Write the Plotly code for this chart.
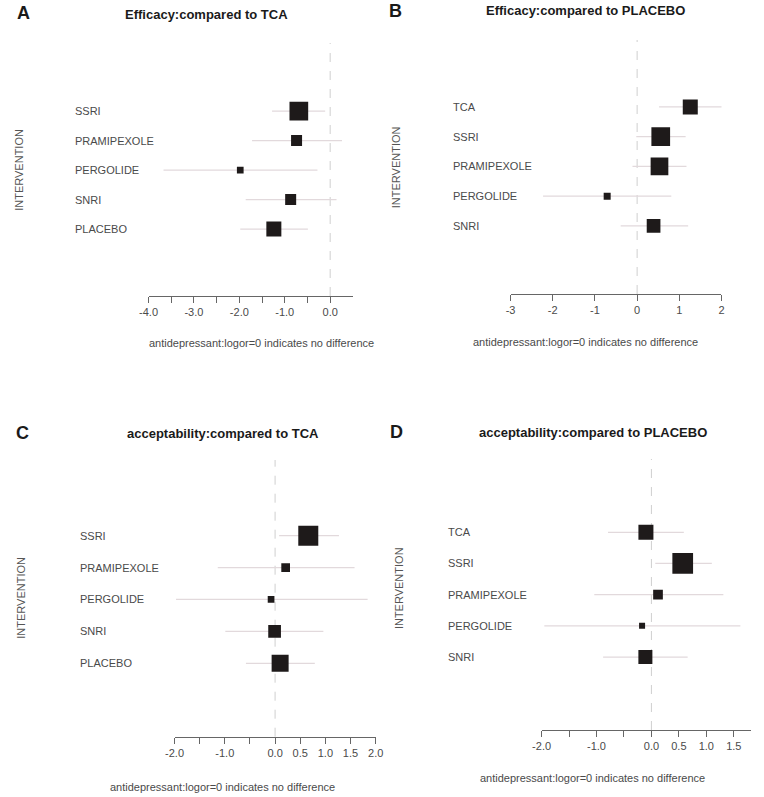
import plotly.graph_objects as go

# ---------------- data ----------------
# Panel A: Efficacy compared to TCA
a_names = ["SSRI", "PRAMIPEXOLE", "PERGOLIDE", "SNRI", "PLACEBO"]
a_est = [-0.69, -0.74, -1.98, -0.87, -1.24]
a_lo = [-1.28, -1.72, -3.67, -1.86, -1.98]
a_hi = [-0.11, 0.26, -0.28, 0.14, -0.49]
a_w = [18.7, 11.0, 6.7, 11.0, 15.0]

# Panel B: Efficacy compared to PLACEBO
b_names = ["TCA", "SSRI", "PRAMIPEXOLE", "PERGOLIDE", "SNRI"]
b_est = [1.26, 0.56, 0.53, -0.71, 0.39]
b_lo = [0.52, -0.02, -0.11, -2.23, -0.39]
b_hi = [2.02, 1.15, 1.17, 0.81, 1.21]
b_w = [15.0, 18.7, 17.7, 7.0, 13.7]

# Panel C: acceptability compared to TCA
c_names = ["SSRI", "PRAMIPEXOLE", "PERGOLIDE", "SNRI", "PLACEBO"]
c_est = [0.66, 0.21, -0.08, -0.01, 0.10]
c_lo = [0.08, -1.14, -1.97, -0.99, -0.58]
c_hi = [1.27, 1.58, 1.84, 0.96, 0.79]
c_w = [20.0, 8.7, 6.7, 12.7, 17.0]

# Panel D: acceptability compared to PLACEBO
d_names = ["TCA", "SSRI", "PRAMIPEXOLE", "PERGOLIDE", "SNRI"]
d_est = [-0.10, 0.57, 0.12, -0.17, -0.11]
d_lo = [-0.79, 0.07, -1.04, -1.95, -0.88]
d_hi = [0.59, 1.10, 1.31, 1.62, 0.66]
d_w = [15.0, 20.7, 9.7, 6.0, 14.0]

titles = ["Efficacy:compared to TCA", "Efficacy:compared to PLACEBO",
          "acceptability:compared to TCA", "acceptability:compared to PLACEBO"]
letters = ["A", "B", "C", "D"]
xlabel = "antidepressant:logor=0 indicates no difference"
ylabel = "INTERVENTION"

a_ticks = [-4.0, -3.5, -3.0, -2.5, -2.0, -1.5, -1.0, -0.5, 0.0]
a_ticktext = ["-4.0", "", "-3.0", "", "-2.0", "", "-1.0", "", "0.0"]
b_ticks = [-3, -2, -1, 0, 1, 2]
b_ticktext = ["-3", "-2", "-1", "0", "1", "2"]
c_ticks = [-2.0, -1.5, -1.0, -0.5, 0.0, 0.5, 1.0, 1.5, 2.0]
c_ticktext = ["-2.0", "", "-1.0", "", "0.0", "0.5", "1.0", "1.5", "2.0"]
d_ticks = [-2.0, -1.5, -1.0, -0.5, 0.0, 0.5, 1.0, 1.5]
d_ticktext = ["-2.0", "", "-1.0", "", "0.0", "0.5", "1.0", "1.5"]

# ---------------- layout geometry (pixels) ----------------
W, H = 764, 797
FONT = "Liberation Sans, Arial, sans-serif"
TXT = "#4a4a4a"
CI_COL = "#e2d9dc"
BOX_COL = "#1e1a1a"

panels = [
    dict(names=a_names, est=a_est, lo=a_lo, hi=a_hi, w=a_w, ticks=a_ticks, tt=a_ticktext,
         xr=[-4.0, 0.5], px=(142.7, 351.7), py=(43, 296), yr=[6.27, -2.31],
         label_x=65.5, ytitle=(10, 170), title=(202, 15), letter=(6, 13),
         xtitle=(258, 343)),
    dict(names=b_names, est=b_est, lo=b_lo, hi=b_hi, w=b_w, ticks=b_ticks, tt=b_ticktext,
         xr=[-3, 2], px=(513, 728.7), py=(40, 294), yr=[6.29, -2.25],
         label_x=452.5, ytitle=(396, 167), title=(590, 11), letter=(387, 11),
         xtitle=(590, 341.7)),
    dict(names=c_names, est=c_est, lo=c_lo, hi=c_hi, w=c_w, ticks=c_ticks, tt=c_ticktext,
         xr=[-2.0, 2.0], px=(169.3, 375), py=(460, 736.7), yr=[6.30, -2.37],
         label_x=70.5, ytitle=(12, 598), title=(219, 433), letter=(5, 433),
         xtitle=(218, 786.7)),
    dict(names=d_names, est=d_est, lo=d_lo, hi=d_hi, w=d_w, ticks=d_ticks, tt=d_ticktext,
         xr=[-2.0, 1.81], px=(544.7, 758.7), py=(459, 730), yr=[6.34, -2.35],
         label_x=446.5, ytitle=(399, 588), title=(597, 432), letter=(388, 432),
         xtitle=(597, 778)),
]

fig = go.Figure()
annotations = []
shapes = []
layout_axes = {}

for i, p in enumerate(panels):
    k = "" if i == 0 else str(i + 1)
    xa, ya = "x" + k, "y" + k
    n = len(p["names"])
    # CI lines
    for j in range(n):
        fig.add_trace(go.Scatter(
            x=[p["lo"][j], p["hi"][j]], y=[p["names"][j], p["names"][j]],
            mode="lines", line=dict(color=CI_COL, width=1.3),
            xaxis=xa, yaxis=ya, showlegend=False, hoverinfo="skip"))
    # boxes
    fig.add_trace(go.Scatter(
        x=p["est"], y=p["names"], mode="markers",
        marker=dict(symbol="square", size=p["w"], color=BOX_COL, opacity=1,
                    line=dict(width=0)),
        xaxis=xa, yaxis=ya, showlegend=False))
    x0, x1 = p["px"]
    ytop, ybot = p["py"]
    layout_axes["xaxis" + k] = dict(
        domain=[x0 / W, x1 / W], range=p["xr"], anchor=ya,
        showgrid=False, zeroline=False, showline=True, linecolor="#666", linewidth=1,
        ticks="outside", ticklen=6, tickcolor="#666", tickwidth=1,
        tickvals=p["ticks"], ticktext=p["tt"],
        tickfont=dict(family=FONT, size=11, color=TXT), fixedrange=True)
    layout_axes["yaxis" + k] = dict(
        domain=[1 - ybot / H, 1 - ytop / H], range=p["yr"], anchor=xa,
        type="category", categoryorder="array", categoryarray=p["names"],
        showgrid=False, zeroline=False, showline=False, showticklabels=False,
        ticks="", fixedrange=True)
    # dashed zero line
    shapes.append(dict(type="line", xref=xa, yref=ya + " domain", x0=0, x1=0, y0=0, y1=1,
                       line=dict(color="#cfcfcf", width=1, dash="dash"), layer="below"))
    # row labels
    for j, nm in enumerate(p["names"]):
        annotations.append(dict(
            text=nm, xref="paper", yref=ya, x=p["label_x"] / W, y=nm,
            xanchor="left", yanchor="middle", showarrow=False,
            font=dict(family=FONT, size=11, color=TXT)))
    # y title
    annotations.append(dict(
        text=ylabel, xref="paper", yref="paper", x=p["ytitle"][0] / W, y=1 - p["ytitle"][1] / H,
        xanchor="center", yanchor="middle", textangle=-90, showarrow=False,
        font=dict(family=FONT, size=11, color="#555")))
    # title
    annotations.append(dict(
        text="<b>" + titles[i] + "</b>", xref="paper", yref="paper",
        x=p["title"][0] / W, y=1 - p["title"][1] / H, xanchor="center", yanchor="middle",
        showarrow=False, font=dict(family=FONT, size=13, color="#1a1a1a")))
    # panel letter
    annotations.append(dict(
        text="<b>" + letters[i] + "</b>", xref="paper", yref="paper",
        x=p["letter"][0] / W, y=1 - p["letter"][1] / H, xanchor="left", yanchor="middle",
        showarrow=False, font=dict(family=FONT, size=18, color="#1a1a1a")))
    # x title
    annotations.append(dict(
        text=xlabel, xref="paper", yref="paper",
        x=p["xtitle"][0] / W, y=1 - p["xtitle"][1] / H, xanchor="center", yanchor="middle",
        showarrow=False, font=dict(family=FONT, size=11, color=TXT)))

fig.update_layout(
    width=W, height=H, autosize=False, margin=dict(l=0, r=0, t=0, b=0),
    paper_bgcolor="white", plot_bgcolor="white",
    annotations=annotations, shapes=shapes, **layout_axes)

fig.write_html("out.html",
               config={"responsive": False, "displayModeBar": False},
               post_script="document.body.style.margin='0';document.body.style.overflow='hidden';")
